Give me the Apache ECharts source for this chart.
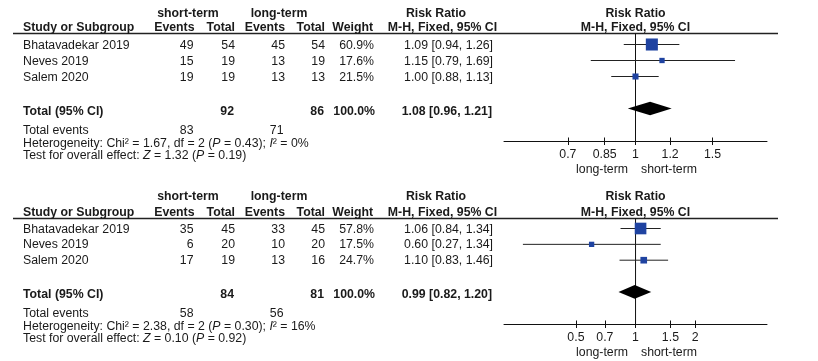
<!DOCTYPE html>
<html><head><meta charset="utf-8">
<script src="https://cdn.jsdelivr.net/npm/echarts@6/dist/echarts.min.js"></script>
<style>html,body{margin:0;padding:0;background:#fff}#c{width:818px;height:361px}</style>
</head><body><div id="c"></div>
<script>
// ---------- DATA ----------
const studies = ['Bhatavadekar 2019', 'Neves 2019', 'Salem 2020'];

const p1ShortEvents = [49, 15, 19];
const p1ShortTotal  = [54, 19, 19];
const p1LongEvents  = [45, 13, 13];
const p1LongTotal   = [54, 19, 13];
const p1Weight      = [60.9, 17.6, 21.5];
const p1RR          = [1.09, 1.15, 1.00];
const p1Lo          = [0.94, 0.79, 0.88];
const p1Hi          = [1.26, 1.69, 1.13];
const p1Totals      = [92, 86];          // short total, long total
const p1TotalEvents = [83, 71];
const p1Pooled      = [1.08, 0.96, 1.21]; // RR, lo, hi
const p1Het         = ['1.67', '2', '0.43', '0%'];  // Chi2, df, P, I2
const p1Overall     = ['1.32', '0.19'];  // Z, P
const p1Ticks       = [0.7, 0.85, 1, 1.2, 1.5];
const p1Range       = [0.5, 2];

const p2ShortEvents = [35, 6, 17];
const p2ShortTotal  = [45, 20, 19];
const p2LongEvents  = [33, 10, 13];
const p2LongTotal   = [45, 20, 16];
const p2Weight      = [57.8, 17.5, 24.7];
const p2RR          = [1.06, 0.60, 1.10];
const p2Lo          = [0.84, 0.27, 0.83];
const p2Hi          = [1.34, 1.34, 1.46];
const p2Totals      = [84, 81];
const p2TotalEvents = [58, 56];
const p2Pooled      = [0.99, 0.82, 1.20];
const p2Het         = ['2.38', '2', '0.30', '16%'];
const p2Overall     = ['0.10', '0.92'];
const p2Ticks       = [0.5, 0.7, 1, 1.5, 2];
const p2Range       = [0.2167, 4.61];

const groupLabels = ['short-term', 'long-term'];
const favourLabels = ['long-term', 'short-term'];

// ---------- BUILD ----------
const FONT = '"Liberation Sans", Arial, Helvetica, sans-serif';
const FS = 12.3;
const TXT = '#1a1a1a';
const BLUE = '#1f43a1';

const panels = [
  { se: p1ShortEvents, st: p1ShortTotal, le: p1LongEvents, lt: p1LongTotal, w: p1Weight,
    rr: p1RR, lo: p1Lo, hi: p1Hi, tot: p1Totals, te: p1TotalEvents, pooled: p1Pooled,
    het: p1Het, ov: p1Overall, ticks: p1Ticks, range: p1Range,
    L: { top: 33.5, axis: 141.5, row0: 28.5, step: 16, h1: 13.7, h2: 27.5, totY: 111.8, teY: 130.7, hetY: 143.3, testY: 155.6, favY: 170 } },
  { se: p2ShortEvents, st: p2ShortTotal, le: p2LongEvents, lt: p2LongTotal, w: p2Weight,
    rr: p2RR, lo: p2Lo, hi: p2Hi, tot: p2Totals, te: p2TotalEvents, pooled: p2Pooled,
    het: p2Het, ov: p2Overall, ticks: p2Ticks, range: p2Range,
    L: { top: 218.5, axis: 324.5, row0: 212.65, step: 15.85, h1: 196.7, h2: 212.3, totY: 294.3, teY: 313.5, hetY: 326.2, testY: 338.5, favY: 352.7 } }
];

// column right edges / positions
const COL = { study: 23, se: 194.5, st: 235, le: 285, lt: 325, w: 374, rr: 493,
              grpS: 188, grpL: 279, rrHdr: 436, rrSub: 442.5, plotLeft: 504, plotW: 263, lineL: 13, lineR: 778 };

const grid = [], xAxis = [], yAxis = [], series = [], graphic = [];

function txt(x, y, text, opt) {
  opt = opt || {};
  graphic.push({ type: 'text', x: x, y: y, silent: true,
    style: Object.assign({ text: text, fill: TXT, font: (opt.bold ? 'bold ' : '') + FS + 'px ' + FONT,
      align: opt.align || 'left', verticalAlign: 'middle' }, opt.style || {}) });
}

panels.forEach((P, g) => {
  const L = P.L;
  const lnMin = Math.log(P.range[0]), lnMax = Math.log(P.range[1]);
  const yMin = (L.top - L.row0) / L.step, yMax = (L.axis - L.row0) / L.step;
  grid.push({ left: COL.plotLeft, width: COL.plotW, top: L.top, height: L.axis - L.top });
  const tv = P.ticks.map(Math.log);
  xAxis.push({ gridIndex: g, type: 'value', min: lnMin, max: lnMax, position: 'bottom',
    axisLine: { show: true, lineStyle: { color: '#111', width: 1 } },
    axisTick: { show: true, customValues: tv, length: 3.5, lineStyle: { color: '#111' } },
    axisLabel: { show: true, customValues: tv, margin: 7, fontSize: FS, fontFamily: FONT, color: TXT,
      formatter: v => { const t = P.ticks.find(t => Math.abs(Math.log(t) - v) < 1e-6); return t === undefined ? '' : String(t); } },
    splitLine: { show: false } });
  xAxis.push({ gridIndex: g, type: 'value', min: lnMin, max: lnMax, position: 'bottom',
    axisLine: { show: false },
    axisTick: { show: true, inside: true, customValues: tv, length: 4, lineStyle: { color: '#111' } },
    axisLabel: { show: false }, splitLine: { show: false } });
  yAxis.push({ gridIndex: g, type: 'value', min: yMin, max: yMax, inverse: true, show: false });

  const xi = g * 2;
  // vertical line of no effect
  series.push({ type: 'line', xAxisIndex: xi, yAxisIndex: g, silent: true, symbol: 'none',
    lineStyle: { color: '#111', width: 1 }, data: [[0, yMin], [0, yMax]], z: 1 });
  // studies
  series.push({ type: 'custom', xAxisIndex: xi, yAxisIndex: g, silent: true, z: 3,
    data: studies.map((s, i) => [Math.log(P.rr[i]), i + 1, Math.log(P.lo[i]), Math.log(P.hi[i]), P.w[i]]),
    renderItem: (params, api) => {
      const y = api.value(1);
      const c = api.coord([api.value(0), y]);
      const l = api.coord([api.value(2), y]);
      const h = api.coord([api.value(3), y]);
      const s = 0.8 * Math.pow(api.value(4), 0.66);
      return { type: 'group', children: [
        { type: 'line', shape: { x1: l[0], y1: c[1], x2: h[0], y2: c[1] }, style: { stroke: '#222', lineWidth: 1 } },
        { type: 'rect', shape: { x: c[0] - s / 2, y: c[1] - s / 2, width: s, height: s }, style: { fill: BLUE } }
      ] };
    } });
  // pooled diamond
  series.push({ type: 'custom', xAxisIndex: xi, yAxisIndex: g, silent: true, z: 3,
    data: [[Math.log(P.pooled[0]), 5, Math.log(P.pooled[1]), Math.log(P.pooled[2])]],
    renderItem: (params, api) => {
      const y = api.value(1);
      const c = api.coord([api.value(0), y]);
      const l = api.coord([api.value(2), y]);
      const h = api.coord([api.value(3), y]);
      const d = 6.8;
      return { type: 'polygon', shape: { points: [[l[0], c[1]], [c[0], c[1] - d], [h[0], c[1]], [c[0], c[1] + d]] },
        style: { fill: '#000' } };
    } });

  // header line
  graphic.push({ type: 'line', silent: true, shape: { x1: COL.lineL, y1: L.top, x2: COL.lineR, y2: L.top },
    style: { stroke: '#222', lineWidth: 1.3 } });

  // headers
  txt(COL.grpS, L.h1, groupLabels[0], { bold: true, align: 'center' });
  txt(COL.grpL, L.h1, groupLabels[1], { bold: true, align: 'center' });
  txt(COL.rrHdr, L.h1, 'Risk Ratio', { bold: true, align: 'center' });
  txt(635.5, L.h1, 'Risk Ratio', { bold: true, align: 'center' });
  txt(COL.study, L.h2, 'Study or Subgroup', { bold: true });
  txt(COL.se, L.h2, 'Events', { bold: true, align: 'right' });
  txt(COL.st, L.h2, 'Total', { bold: true, align: 'right' });
  txt(COL.le, L.h2, 'Events', { bold: true, align: 'right' });
  txt(COL.lt, L.h2, 'Total', { bold: true, align: 'right' });
  txt(COL.w - 1, L.h2, 'Weight', { bold: true, align: 'right' });
  txt(COL.rrSub, L.h2, 'M-H, Fixed, 95% CI', { bold: true, align: 'center' });
  txt(635.5, L.h2, 'M-H, Fixed, 95% CI', { bold: true, align: 'center' });

  // study rows
  studies.forEach((s, i) => {
    const y = L.row0 + L.step * (i + 1) + 0.7;
    txt(COL.study, y, s);
    txt(COL.se - 1, y, String(P.se[i]), { align: 'right' });
    txt(COL.st, y, String(P.st[i]), { align: 'right' });
    txt(COL.le, y, String(P.le[i]), { align: 'right' });
    txt(COL.lt, y, String(P.lt[i]), { align: 'right' });
    txt(COL.w, y, P.w[i].toFixed(1) + '%', { align: 'right' });
    txt(COL.rr, y, P.rr[i].toFixed(2) + ' [' + P.lo[i].toFixed(2) + ', ' + P.hi[i].toFixed(2) + ']', { align: 'right' });
  });

  // total row
  txt(COL.study, L.totY, 'Total (95% CI)', { bold: true });
  txt(COL.st - 1, L.totY, String(P.tot[0]), { bold: true, align: 'right' });
  txt(COL.lt - 1, L.totY, String(P.tot[1]), { bold: true, align: 'right' });
  txt(COL.w + 1, L.totY, (100).toFixed(1) + '%', { bold: true, align: 'right' });
  txt(COL.rr - 1, L.totY, P.pooled[0].toFixed(2) + ' [' + P.pooled[1].toFixed(2) + ', ' + P.pooled[2].toFixed(2) + ']', { bold: true, align: 'right' });

  txt(COL.study, L.teY, 'Total events');
  txt(COL.se - 1, L.teY, String(P.te[0]), { align: 'right' });
  txt(COL.le - 1.5, L.teY, String(P.te[1]), { align: 'right' });

  const rich = { n: { font: FS + 'px ' + FONT, fill: TXT }, i: { font: 'italic ' + FS + 'px ' + FONT, fill: TXT } };
  graphic.push({ type: 'text', x: COL.study, y: L.hetY, silent: true,
    style: { text: '{n|Heterogeneity: Chi² = ' + P.het[0] + ', df = ' + P.het[1] + ' (}{i|P}{n| = ' + P.het[2] + '); }{i|I}{n|² = ' + P.het[3] + '}',
      rich: rich, verticalAlign: 'middle', align: 'left', font: FS + 'px ' + FONT, fill: TXT } });
  graphic.push({ type: 'text', x: COL.study, y: L.testY, silent: true,
    style: { text: '{n|Test for overall effect: }{i|Z}{n| = ' + P.ov[0] + ' (}{i|P}{n| = ' + P.ov[1] + ')}',
      rich: rich, verticalAlign: 'middle', align: 'left', font: FS + 'px ' + FONT, fill: TXT } });

  // favours labels
  txt(628, L.favY, favourLabels[0], { align: 'right' });
  txt(641, L.favY, favourLabels[1], { align: 'left' });
});

const chart = echarts.init(document.getElementById('c'), null, { renderer: 'canvas' });
chart.setOption({ animation: false, backgroundColor: '#fff', grid, xAxis, yAxis, series, graphic });
</script>
</body></html>
